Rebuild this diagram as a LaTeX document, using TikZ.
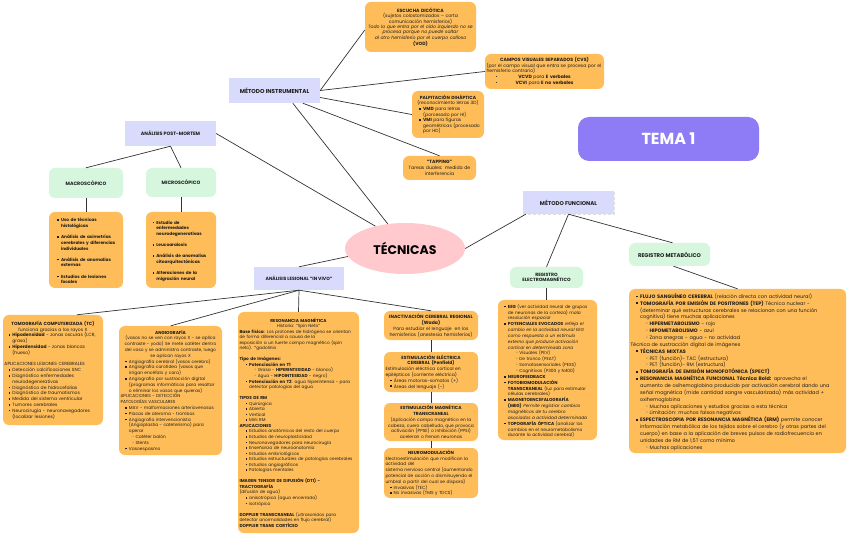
\documentclass[tikz,border=0pt]{standalone}
\usepackage{fontspec}
\setmainfont{Poppins}
\newfontfamily\dejavu{DejaVu Sans}
\usetikzlibrary{shapes.geometric}
\definecolor{orng}{HTML}{FFBD59}
\definecolor{lav}{HTML}{D9DBFD}
\definecolor{grn}{HTML}{D6F7DE}
\definecolor{pnk}{HTML}{FFC9CE}
\definecolor{purp}{HTML}{8E7CF6}
\definecolor{ln}{HTML}{333333}
\definecolor{txt}{HTML}{1E1E1E}
\hyphenpenalty=10000
\exhyphenpenalty=10000
\newcommand\nl{\newline}
\newcommand\buind{1.1em}
\newcommand\ciind{2.6em}
\newcommand\bu{\par\hangindent=\dimexpr\buind+0.85em\relax\hangafter=1\noindent\hspace*{\buind}\makebox[0.85em][l]{\rule[0.2em]{0.38em}{0.38em}}\ignorespaces}
\newcommand\ci{\par\hangindent=\dimexpr\ciind+0.85em\relax\hangafter=1\noindent\hspace*{\ciind}\makebox[0.85em][l]{{\dejavu ◦}}\ignorespaces}
\newcommand\gap[1][4pt]{\par\vspace{#1}}
\newcommand\fs{\fontsize{4.5}{5.8}\selectfont}
\tikzset{
  base/.style={inner sep=0pt, text=txt, font=\fs},
  ob/.style={base, fill=orng, rounded corners=6pt, inner xsep=1.5pt, align=left},
  oc/.style={base, fill=orng, rounded corners=6pt, inner xsep=1.5pt, align=center},
  lb/.style={base, fill=lav, align=center},
  gb/.style={base, fill=grn, rounded corners=6pt, align=center},
  cn/.style={draw=ln, line width=0.7pt},
}
\begin{document}
\begin{tikzpicture}[x=1pt,y=-1pt]
\useasboundingbox (0,0) rectangle (848,534);
\fill[white] (0,0) rectangle (848,534);

% ---------- top: instrumental ----------
\node[oc, minimum width=111pt, minimum height=50pt, text width=108pt, font=\fontsize{4.6}{5.1}\selectfont] (esc) at (420.5,27) {%
\textbf{ESCUCHA DICÓTICA}\\
(sujetos colostomizados – corta\\
comunicación hemisferios)\\
\textit{Todo lo que entra por el oído izquierdo no se}\\
\textit{procesa porque no puede saltar}\\
\textit{al otro hemisferio por el cuerpo calloso}\\
\textbf{(VOD)}};

\node[ob, minimum width=119pt, minimum height=35pt, text width=116pt, font=\fontsize{4.6}{5.7}\selectfont] (cvs) at (544.5,71.5) {%
{\centering\textbf{CAMPOS VISUALES SEPARADOS (CVS)}\par}
(por el campo visual que entra se procesa por el\nl hemisferio contrario)
\par\noindent\rlap{\hspace*{9pt}\textbullet}\hfill\textbf{VCVD} para \textbf{E verbales}\hfill\null
\par\noindent\rlap{\hspace*{9pt}\textbullet}\hfill\textbf{VCVI} para \textbf{E no verbales}\hfill\null\par};

\node[ob, minimum width=72pt, minimum height=47pt, text width=69pt, font=\fontsize{4.5}{5.6}\selectfont] (palp) at (448,114.5) {%
\renewcommand\buind{1.3em}%
{\centering\textbf{PALPITACIÓN DIHÁPTICA}\\(reconocimiento letras 3D)\par}
\bu\textbf{VMD} para letras\nl(porcesado por HI)
\bu\textbf{VMI} para figuras\nl geométricas (procesado\nl por HD)\par};

\node[oc, minimum width=73pt, minimum height=24pt, text width=70pt, font=\fontsize{4.6}{5.8}\selectfont] (tap) at (439.5,168) {%
\textbf{“TAPPING”}\\Tareas duales: medida de\\interferencia};

\node[lb, minimum width=91pt, minimum height=25pt, font=\fontsize{5.7}{6}\selectfont\bfseries] (MI) at (274.5,90.5) {MÉTODO INSTRUMENTAL};

% ---------- post-mortem ----------
\node[lb, minimum width=91pt, minimum height=25pt, font=\fontsize{4.8}{6}\selectfont\bfseries] (PM) at (170.5,133.5) {ANÁLISIS POST-MORTEM};
\node[gb, minimum width=74pt, minimum height=30pt, font=\fontsize{4.8}{6}\selectfont\bfseries] (macro) at (86,183) {MACROSCÓPICO};
\node[gb, minimum width=70pt, minimum height=29pt, font=\fontsize{4.8}{6}\selectfont\bfseries] (micro) at (181,182.5) {MICROSCÓPICO};

\node[ob, minimum width=74pt, minimum height=76pt, text width=71pt, font=\fontsize{4.3}{5.7}\selectfont\bfseries] (macL) at (86,250) {%
\renewcommand\buind{1.6em}%
\bu Uso de técnicas\nl histológicas
\gap[5.5pt]\bu Análisis de asimetrías\nl cerebrales y diferencias\nl individuales
\gap[5.5pt]\bu Análisis de anomalías\nl externas
\gap[5.5pt]\bu Estudios de lesiones\nl focales\par};

\node[ob, minimum width=70pt, minimum height=76pt, text width=67pt, font=\fontsize{4.3}{5.7}\selectfont\bfseries] (micL) at (181,250) {%
\renewcommand\buind{1.2em}%
\bu Estudio de\nl enfermedades\nl neurodegenerativas
\gap[5.5pt]\bu Leucoaraiosis
\gap[5.5pt]\bu Análisis de anomalías\nl citoarquitectónicas
\gap[5.5pt]\bu Alteraciones de la\nl migración neural\par};

% ---------- center ----------
\node[ellipse, fill=pnk, minimum width=120pt, minimum height=51pt, inner sep=0pt, text=black, font=\fontsize{12.5}{14}\selectfont\bfseries] (tec) at (405,248.5) {TÉCNICAS};

\node[fill=purp, rounded corners=11pt, minimum width=181pt, minimum height=44pt, inner sep=0pt, text=white, font=\fontsize{16}{18}\selectfont\bfseries] (tema) at (668.5,139) {TEMA 1};

\node[lb, minimum width=90pt, minimum height=23pt, font=\fontsize{4.6}{6}\selectfont\bfseries] (AL) at (299,278.5) {ANÁLISIS LESIONAL “IN VIVO”};

% ---------- funcional ----------
\node[lb, draw=white!75!gray, densely dashed, line width=0.4pt, minimum width=91pt, minimum height=23pt, font=\fontsize{5.5}{6}\selectfont\bfseries] (MF) at (568.5,202.5) {MÉTODO FUNCIONAL};
\node[gb, minimum width=73pt, minimum height=21pt, font=\fontsize{4.6}{5.6}\selectfont\bfseries] (REM) at (546.5,277.5) {REGISTRO\\ELECTROMAGNÉTICO};
\node[gb, minimum width=81pt, minimum height=23pt, font=\fontsize{5.4}{6}\selectfont\bfseries] (RMET) at (669.5,254.5) {REGISTRO METABÓLICO};

\node[ob, minimum width=99pt, minimum height=140pt, text width=96pt, font=\fontsize{4.35}{5.85}\selectfont] (eeg) at (547.5,370) {%
\renewcommand\ciind{3.7em}%
\bu\textbf{EEG} (ver actividad neural de grupos\nl de neuronas de la corteza) \textit{mala}\nl\textit{resolución espacial}
\bu\textbf{POTENCIALES EVOCADOS} \textit{refleja el}\nl\textit{cambio en la actividad neural EEG}\nl\textit{como respuesta a un estímulo}\nl\textit{externo que produce activación}\nl\textit{cortical en determinada zona}
\ci Visuales (PEV)
\ci De tronco (PEAT)
\ci Somatosensoriales (PESS)
\ci Cognitivos (P300 y N400)
\bu\textbf{NEUROFEEDBACK}
\bu\textbf{FOTOBIOMODULACIÓN}\nl\textbf{TRANSCRANEAL} (luz para estimular\nl células cerebrales)
\bu\textbf{MAGNETOENCEFALOGRAFÍA}\nl\textbf{(MEG)} \textit{Permite registrar cambios}\nl\textit{magnéticos de tu cerebro}\nl\textit{asociados a actividad determinada}
\bu\textbf{TOPOGRAFÍA ÓPTICA} (analizar los\nl cambios en el neurometabolismo\nl durante la actividad cerebral)\par};

\node[ob, minimum width=217pt, minimum height=164pt, text width=214pt, font=\fontsize{4.95}{6.85}\selectfont] (right) at (737.5,371) {%
\renewcommand\buind{1.1em}\renewcommand\ciind{3em}%
\bu\textbf{FLUJO SANGUÍNEO CEREBRAL} (relación directa con actividad neural)
\bu\textbf{TOMOGRAFÍA POR EMISIÓN DE POSITRONES (TEP)} Técnica nuclear -\nl(determinar qué estructuras cerebrales se relacionan con una función\nl cognitiva) tiene muchas aplicaciones
\ci\textbf{HIPERMETABOLISMO} - rojo
\ci\textbf{HIPOMETABOLISMO} - azul
\ci Zona snegras - agua - no actividad
\par\noindent Técnica de sustracción digital de imágenes
\bu\textbf{TÉCNICAS MIXTAS}
\ci PET (función)- TAC (estructura)
\ci PET (función)- RM (estructura)
\bu\textbf{TOMOGRAFÍA DE EMISIÓN MONOFOTÓNICA (SPECT)}
\bu\textbf{RESONANCIA MAGNÉTICA FUNCIONAL Técnica Bold:} aprovecha el\nl aumento de oxihemoglobina producido por activación cerebral dando una\nl señal magnética (mide cantidad sangre vascularizada) más actividad +\nl oxihemoglobina
\ci Muchas aplicaciones y estudios gracias a esta técnica
\ci Limitación: muchos falsos negativos
\bu\textbf{ESPECTROSCOPIA POR RESONANCIA MAGNÉTICA (ERM)} permite conocer\nl información metabólica de los tejidos sobre el cerebro (y otras partes del\nl cuerpo) en base a la aplicación de breves pulsos de radiofrecuencia en\nl unidades de RM de 1,5T como mínimo
\ci Muchas aplicaciones\par};

% ---------- lesional ----------
\node[ob, minimum width=100pt, minimum height=110pt, text width=97pt, font=\fontsize{4.5}{5.8}\selectfont] (tc) at (53,370) {%
\renewcommand\buind{0.9em}%
{\centering\textbf{TOMOGRAFÍA COMPUTERIZADA (TC)}\\funciona gracias a los rayos X\par}
\bu\textbf{Hipodensidad} - zonas oscuras (LCR,\nl grasa)
\bu\textbf{Hiperdensidad} - zonas blancas\nl(hueso)
\gap[5.8pt]\noindent APLICACIONES LESIONES CEREBRALES
\bu Detección calcificaciones SNC
\bu Diagnóstico enfermedades\nl neurodegenerativas
\bu Diagnóstico de hidrocefalias
\bu Diagnóstico de traumatismos
\bu Medida del sistema ventricular
\bu Tumores cerebrales
\bu Neurocirugía - neuronavegadores\nl(localizar lesiones)\par};

\node[ob, minimum width=103pt, minimum height=129pt, text width=100pt, font=\fontsize{4.35}{5.8}\selectfont] (angio) at (170.5,390.5) {%
{\centering\textbf{ANGIOGRAFÍA}\\(vasos no se ven con rayos X - se aplica\\contraste - yodo) Se mete catéter dentro\\del vaso y se administra contraste, luego\\se aplican rayos X\par}
\bu Angiografía cerebral (vasos cerebro)
\bu Angiografía carotidea (vasos que\nl irrigan encéfalo y cara)
\bu Angiografía por sustracción digital\nl(programas informáticos para resaltar\nl o eliminar los vasos que quieras)
\par\noindent APLICACIONES - DETECCIÓN\nl PATOLOGÍAS VASCULARES
\bu MAV - malformaciones arteriovenosas
\bu Placas de ateroma - trombos
\bu Angiografía intervencionista\nl(Angioplastia - cateterismo) para\nl operar
\ci Catéter balón
\ci Stents
\bu Vasoespasmo\par};

\node[ob, minimum width=121pt, minimum height=221pt, text width=118pt, font=\fontsize{4.3}{5.55}\selectfont] (rm) at (298.5,422.5) {%
\renewcommand\buind{1.4em}\renewcommand\ciind{3.4em}%
{\centering\textbf{RESONANCIA MAGNÉTICA}\\Historia: “Spin Neto”\par}
\noindent\textbf{Base física}: Los protones de hidrógeno se orientan\nl de forma diferencial a causa de la\nl exposición a un fuerte campo magnético (spin\nl neto). *gadolinio
\gap[5.5pt]\noindent\textbf{Tipo de Imágenes:}
\bu\textbf{Potenciación en T1}
\ci Grasa - \textbf{HIPERINTESIDAD} - blanco)
\ci Agua - \textbf{HIPOINTESIDAD} - negro)
\bu\textbf{Potenciación en T2}: agua hiperintensa - para\nl detectar patologías del agua
\gap[5.5pt]\noindent\textbf{TIPOS DE RM}
\bu Quirúrgica
\bu Abierta
\bu Vertical
\bu Mini RM
\par\noindent\textbf{APLICACIONES}
\bu Estudios anatómicos del resto del cuerpo
\bu Estudios de neuroplasticidad
\bu Neuronavegadores para neurocirugía
\bu Enseñanza de neuroanatomía
\bu Estudios embriológicos
\bu Estudios estructurales de patologías cerebrales
\bu Estudios angiográficos
\bu Patologías mentales
\gap[5.5pt]\noindent\textbf{IMAGEN TENSOR DE DIFUSIÓN (DTI) -}\nl\textbf{TRACTOGRAFÍA}
\par\noindent(difusión de agua)
\bu anisotrópica (agua encerrada)
\bu isotrópica
\gap[5.5pt]\noindent\textbf{DOPPLER TRANSCRANEAL} (ultrasonidos para\nl detectar anormalidades en flujo cerebral)
\par\noindent\textbf{DOPPLER TRANS CORTÍCEO}\par};

\node[oc, minimum width=94pt, minimum height=29pt, text width=91pt, font=\fontsize{4.6}{5.8}\selectfont] (inact) at (431,325.5) {%
\textbf{INACTIVACIÓN CEREBRAL REGIONAL}\\\textbf{(Wada)}\\Para estudiar el lenguaje \ en los\\hemisferios (anestesia hemisferios)};

\node[ob, minimum width=94pt, minimum height=40pt, text width=91pt, font=\fontsize{4.5}{5.8}\selectfont] (estel) at (431,372) {%
\renewcommand\buind{1em}%
{\centering\textbf{ESTIMULACIÓN ELÉCTRICA}\\\textbf{CEREBRAL (Penfield)}\par}
\noindent Estimulación eléctrica cortical en\nl epilépticos (corriente eléctrica)
\bu Áreas motoras-somatos (+)
\bu Áreas del lenguaje (-)\par};

\node[oc, minimum width=94pt, minimum height=38pt, text width=91pt, font=\fontsize{4.4}{5.9}\selectfont] (estmag) at (431,422) {%
\textbf{ESTIMULACIÓN MAGNÉTICA}\\\textbf{TRANSCRANEAL}\\(Aplicación campo magnético en la\\cabeza, cuero cabelludo, que provoca\\activación (PPSE) o inhibición (PPSI)\\aceleran o frenan neuronas};

\node[ob, minimum width=94pt, minimum height=50pt, text width=91pt, font=\fontsize{4.4}{5.8}\selectfont] (neuro) at (431,473) {%
\renewcommand\buind{1em}%
{\centering\textbf{NEUROMODULACIÓN}\par}
\noindent Electroestimulación que modifican la\nl actividad del\nl sistema nervioso central (aumentando\nl potencial de acción o disminuyendo el\nl umbral a partir del cual se dispara)
\bu Invasivas (TEC)
\bu No invasivas (TMS y TDCS)\par};

% ---------- connectors ----------
\draw[cn] (MI.east) -- ([yshift=-3pt]esc.west);
\draw[cn] (MI.east) -- (cvs.west);
\draw[cn] ([yshift=-7pt]MI.east) -- (palp.west);
\draw[cn] ([xshift=74pt]MI.south west) -- (tap.north);
\draw[cn] ([xshift=64pt]MI.south west) -- (tec.125);
\draw[cn] (PM.east) -- (tec.143);
\draw[cn] (PM.south) -- (macro.north);
\draw[cn] (PM.south) -- (micro.north);
\draw[cn] (macro) -- (macL);
\draw[cn] (micro) -- (micL);
\draw[cn] (tec.188) -- (AL.north);
\draw[cn] (tec.east) -- ([xshift=3pt]MF.south west);
\draw[cn] (MF.south) -- (REM.north);
\draw[cn] (MF.south) -- ([xshift=3pt]RMET.north);
\draw[cn] ([xshift=4pt]RMET.south) -- (right.north);
\draw[cn] (REM.south) -- (REM.south |- eeg.north);
\draw[cn] (AL.south) -- ([xshift=74pt]tc.north west);
\draw[cn] (AL.south) -- ([xshift=52pt]angio.north west);
\draw[cn] (AL.south) -- (rm.north);
\draw[cn] (AL.south) -- (inact.north);
\draw[cn] (inact) -- (estel);
\draw[cn] (estel) -- (estmag);
\draw[cn] (estmag) -- (neuro);
\end{tikzpicture}
\end{document}
